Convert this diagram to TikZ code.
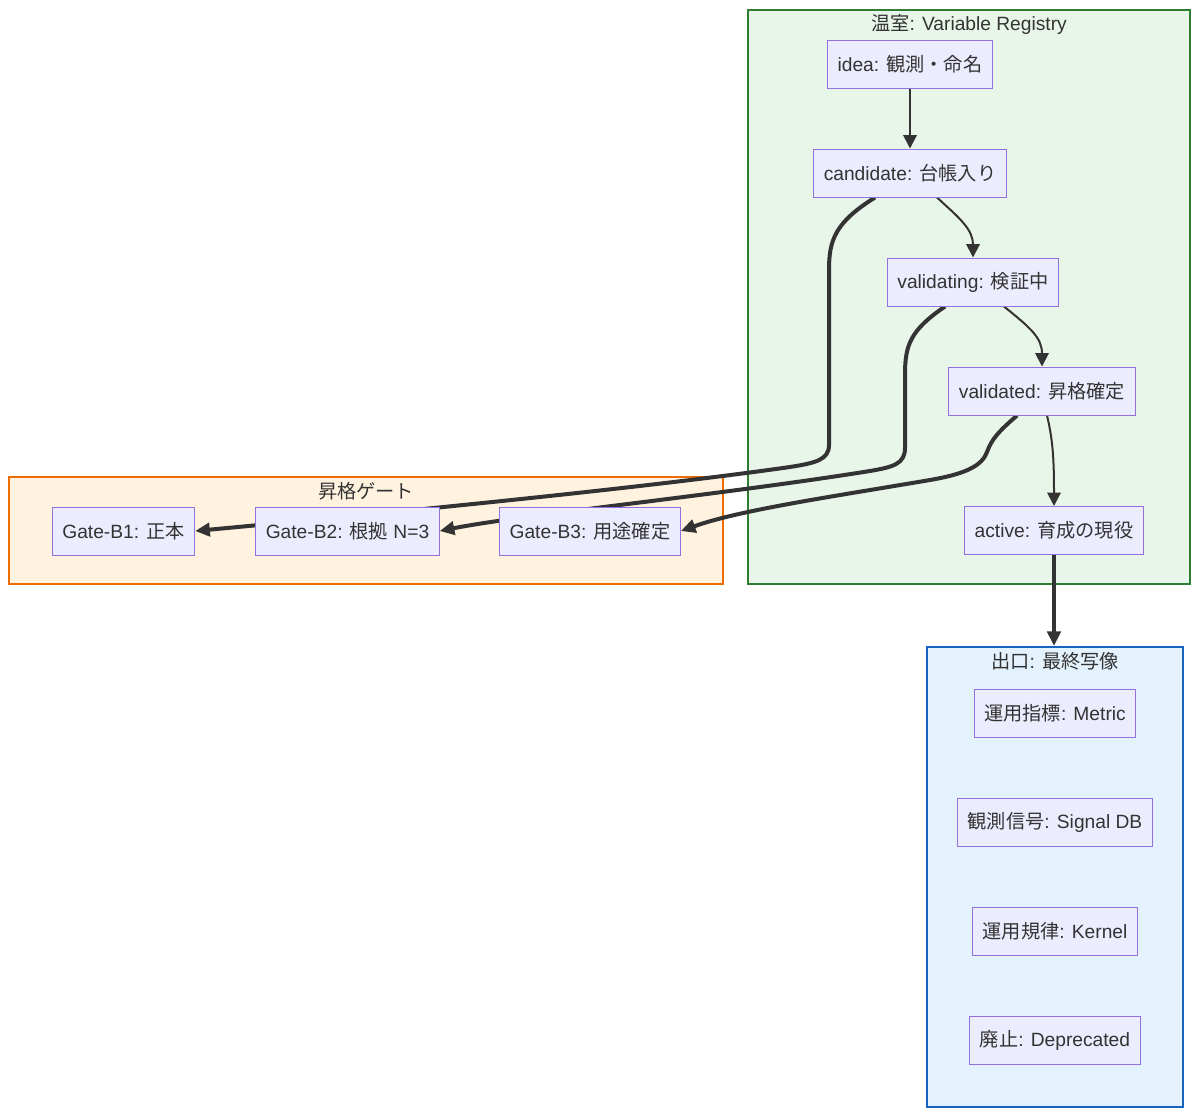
\documentclass[tikz,border=0pt]{standalone}
\usepackage{fontspec}
\setmainfont{Liberation Sans}
\newfontfamily\jp{Noto Sans CJK JP}
\usetikzlibrary{arrows.meta,calc,positioning}
\definecolor{nodefill}{HTML}{ECECFF}
\definecolor{nodeline}{HTML}{9370DB}
\definecolor{txt}{HTML}{333333}
\definecolor{grnfill}{HTML}{E8F5E9}
\definecolor{grnline}{HTML}{2E7D32}
\definecolor{orgfill}{HTML}{FFF3E0}
\definecolor{orgline}{HTML}{EF6C00}
\definecolor{blufill}{HTML}{E3F2FD}
\definecolor{bluline}{HTML}{1565C0}
\pgfdeclarelayer{bg}
\pgfdeclarelayer{edges}
\pgfsetlayers{bg,edges,main}

\begin{document}
\begin{tikzpicture}[x=0.75pt,y=-0.75pt,
every node/.style={font=\fontsize{14.4}{17}\selectfont,text=txt},
box/.style={draw=nodeline,fill=nodefill,line width=0.75pt,minimum height=36pt,inner xsep=7.5pt},
cluster/.style={line width=1.5pt,inner sep=0pt},
thin/.style={draw=txt,line width=1.5pt,-{Triangle[length=10pt,width=10pt]}},
thick/.style={draw=txt,line width=3pt,-{Triangle[length=11pt,width=10pt]}}]
\useasboundingbox (0,0) rectangle (1200,1117);
% clusters
\begin{pgfonlayer}{bg}
\node[cluster,draw=grnline,fill=grnfill,minimum width=331.5pt,minimum height=430.5pt] (house) at (969,297) {};
\node[cluster,draw=orgline,fill=orgfill,minimum width=535.5pt,minimum height=80.25pt] (gate) at (366,530.5) {};
\node[cluster,draw=bluline,fill=blufill,minimum width=192pt,minimum height=345pt] (exit) at (1055,877) {};
\node at ($(house.north)+(0,15.5)$) {{\jp 温室}: Variable Registry};
\node at ($(gate.north)+(0,15.5)$) {\jp 昇格ゲート};
\node at ($(exit.north)+(0,15.5)$) {{\jp 出口}: {\jp 最終写像}};
\end{pgfonlayer}
% registry
\node[box] (idea) at (910,64) {idea: {\jp 観測・命名}};
\node[box] (cand) at (910,173) {candidate: {\jp 台帳入り}};
\node[box] (vtng) at (973,282) {validating: {\jp 検証中}};
\node[box] (vted) at (1042,391) {validated: {\jp 昇格確定}};
\node[box] (active) at (1054,530.5) {active: {\jp 育成の現役}};
% gates
\node[box] (gB1) at (123.5,531) {Gate-B1: {\jp 正本}};
\node[box] (gB2) at (347.5,531) {Gate-B2: {\jp 根拠} N=3};
\node[box] (gB3) at (590,531) {Gate-B3: {\jp 用途確定}};
% exits
\node[box] (metric) at (1055,713) {{\jp 運用指標}: Metric};
\node[box] (signal) at (1055,822) {{\jp 観測信号}: Signal DB};
\node[box] (kernel) at (1055,931) {{\jp 運用規律}: Kernel};
\node[box] (depr) at (1055,1040) {{\jp 廃止}: Deprecated};
\begin{pgfonlayer}{edges}
\draw[thin] (idea) -- (cand);
\draw[thin] ($(cand.south)+(27,0)$) .. controls +(23,21) and +(0,-28) .. (vtng.north);
\draw[thin] ($(vtng.south)+(31,0)$) .. controls +(26,21) and +(0,-29) .. (vted.north);
\draw[thin] ($(vted.south)+(5,0)$) .. controls +(6,25) and +(0,-46) .. (active.north);
\draw[thick] (active) -- (active.south |- exit.north);
\draw[thick] ($(cand.south)+(-35,0)$) .. controls +(-40,25) and +(0,-30) .. (829,270)
  -- (829,445) .. controls (829,460) and (815,463) .. (790,467)
  .. controls (650,487) and (420,510) .. (gB1.east);
\draw[thick] ($(vtng.south)+(-28,0)$) .. controls +(-35,24) and +(0,-30) .. (905,375)
  -- (905,448) .. controls (905,464) and (893,467) .. (870,471)
  .. controls (720,495) and (520,515) .. (gB2.east);
\draw[thick] ($(vted.south)+(-25,0)$) .. controls +(-17,15) and +(5,-14) .. (987,452)
  .. controls (982,466) and (965,474) .. (930,480)
  .. controls (830,497) and (740,510) .. (gB3.east);
\end{pgfonlayer}
\end{tikzpicture}
\end{document}
